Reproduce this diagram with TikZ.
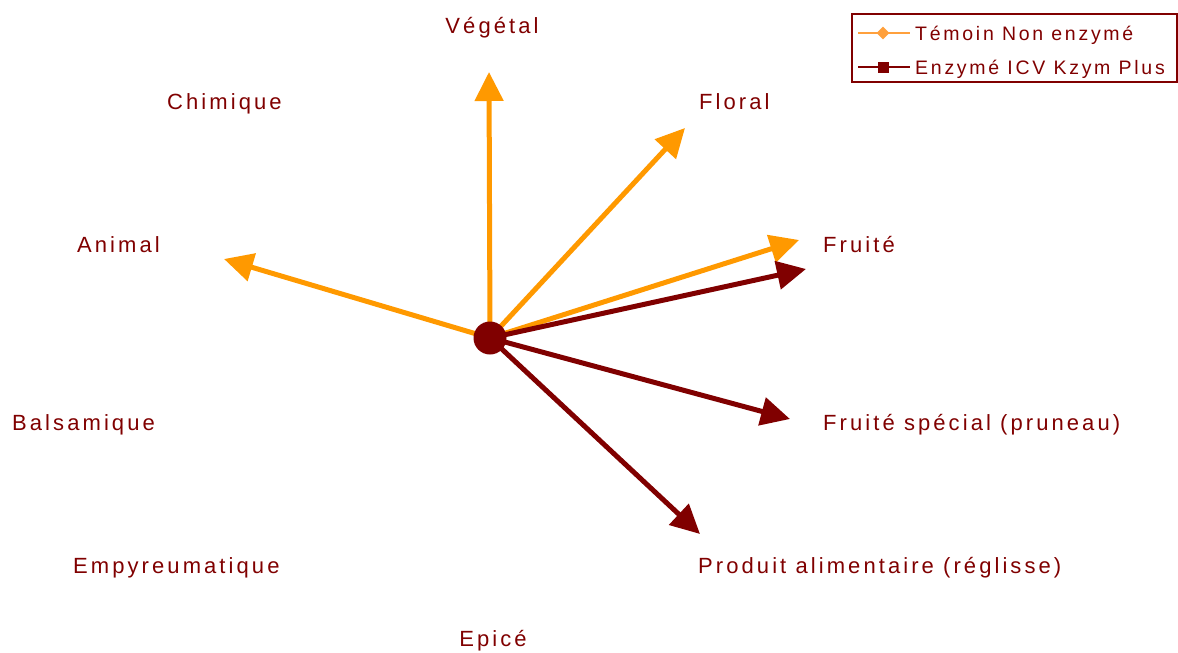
\documentclass[tikz,border=0pt]{standalone}
\usepackage{fontspec}
\setmainfont{Liberation Sans}[LetterSpace=14]
\usetikzlibrary{arrows.meta,shapes.geometric}
\definecolor{vorange}{RGB}{255,153,0}
\definecolor{lorange}{RGB}{255,160,60}
\definecolor{vred}{RGB}{128,0,0}

\begin{document}
\begin{tikzpicture}[x=1pt,y=-1pt,
		lbl/.style={text=vred, font=\fontsize{22}{26}\selectfont, inner sep=0pt, anchor=base west},
		leg/.style={text=vred, font=\fontsize{19.5}{24}\selectfont, inner sep=0pt, anchor=base west},
		temoin/.style={vorange, line width=5pt, -{Triangle[length=29pt,width=28pt]}},
		enzyme/.style={vred, line width=5pt, -{Triangle[length=29pt,width=28pt]}}]
		\useasboundingbox (0,0) rectangle (1178,653);

		% ends of the vectors
		\coordinate (o) at (490,338);
		\coordinate (veg) at (489,72);
		\coordinate (flo) at (685,128);
		\coordinate (fru1) at (799,240);
		\coordinate (ani) at (224,259);
		\coordinate (fru2) at (806,269);
		\coordinate (pru) at (790,419);
		\coordinate (reg) at (700,534);

		\draw[temoin] (o) -- (veg);
		\draw[temoin] (o) -- (flo);
		\draw[temoin] (o) -- (fru1);
		\draw[temoin] (o) -- (ani);
		\draw[enzyme] (o) -- (fru2);
		\draw[enzyme] (o) -- (pru);
		\draw[enzyme] (o) -- (reg);
		\node[circle, fill=vred, minimum size=33pt, inner sep=0pt] (centre) at (o) {};

		% descriptors
		\node[lbl, anchor=base] (tVeg) at (492,33) {Végétal};
		\node[lbl] (tChi) at (167,109) {Chimique};
		\node[lbl] (tFlo) at (699,109) {Floral};
		\node[lbl] (tAni) at (77,252) {Animal};
		\node[lbl] (tFru) at (823,252) {Fruité};
		\node[lbl] (tBal) at (12,430) {Balsamique};
		\node[lbl] (tPru) at (823,430) {Fruité spécial (pruneau)};
		\node[lbl] (tEmp) at (73,573) {Empyreumatique};
		\node[lbl] (tReg) at (698,573) {Produit alimentaire (réglisse)};
		\node[lbl, anchor=base] (tEpi) at (493,646) {Epicé};

		% legend
		\draw[vred, line width=1.5pt] (852,14) rectangle (1177,82);
		\coordinate (l1a) at (858,33);
		\coordinate (l1b) at (910,33);
		\coordinate (l2a) at (858,67);
		\coordinate (l2b) at (910,67);
		\draw[lorange, line width=1.5pt] (l1a) -- (l1b);
		\draw[vred, line width=1.5pt] (l2a) -- (l2b);
		\node[diamond, fill=lorange, minimum size=13pt, inner sep=0pt] (m1) at (883,33) {};
		\node[rectangle, fill=vred, minimum size=11pt, inner sep=0pt] (m2) at (883,67) {};
		\node[leg] (leg1) at (915,40) {Témoin Non enzymé};
		\node[leg] (leg2) at (915,74) {Enzymé ICV Kzym Plus};
	\end{tikzpicture}
\end{document}
